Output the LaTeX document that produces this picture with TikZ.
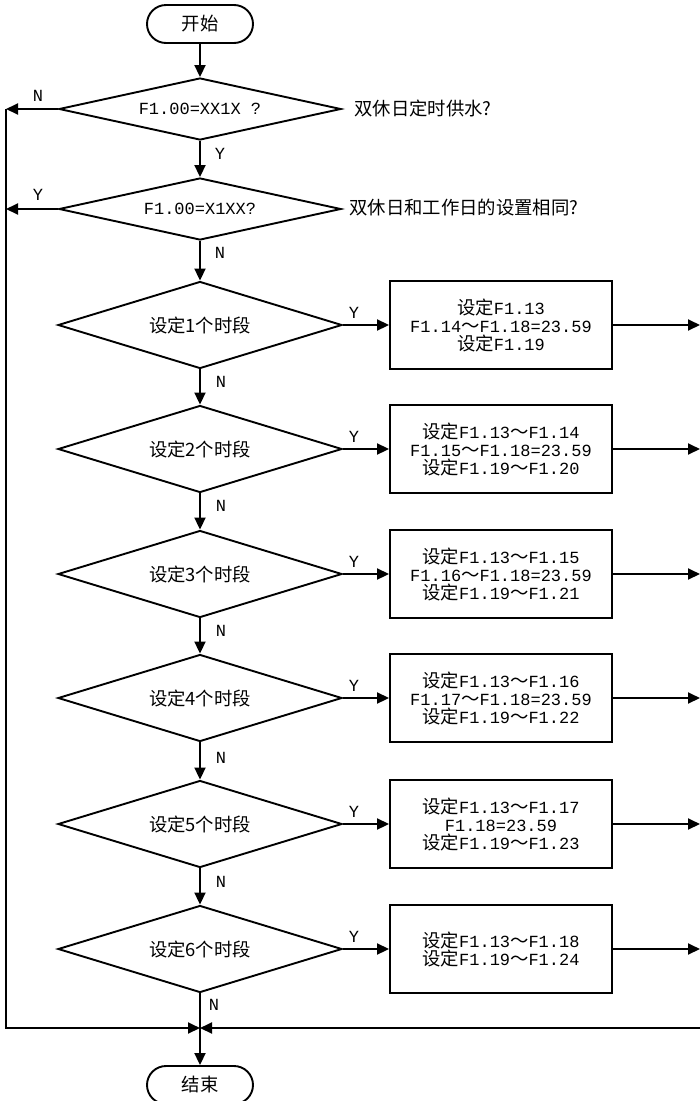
\documentclass[tikz,border=0pt]{standalone}
\usepackage{fontspec}
\setmainfont{Liberation Mono}
\newfontfamily\cjkfont[Scale=1.08]{Noto Sans CJK SC}
\newcommand{\zh}[1]{{\cjkfont #1}}
\newcommand{\wave}{{\cjkfont ～}}
\usetikzlibrary{shapes.geometric,arrows.meta}

\begin{document}
\begin{tikzpicture}[x=1pt,y=-1pt,line width=1.9pt,
    every node/.style={font=\fontsize{17}{18}\selectfont},
    arr/.style={-{Triangle[length=12pt,width=11pt]}},
    term/.style={draw,rounded corners=19pt,minimum width=106pt,minimum height=38pt,inner sep=0pt},
    ask/.style={draw,diamond,aspect=3.26,inner sep=0pt,minimum width=284pt,minimum height=87pt},
    askflat/.style={draw,diamond,aspect=4.55,inner sep=0pt,minimum width=282pt,minimum height=62pt},
    setbox/.style={draw,align=center,minimum width=222pt,minimum height=88pt,inner sep=0pt}]
    \useasboundingbox (0,0) rectangle (700,1101);

    \node[term] (start) at (200,24) {\zh{开始}};
    \node[askflat] (d0) at (200,109) {F1.00=XX1X ?};
    \node[askflat] (d1) at (200,209) {F1.00=X1XX?};
    \node[anchor=west] (q0) at (350,108) {\zh{双休日定时供水?}};
    \node[anchor=west] (q1) at (345,208) {\zh{双休日和工作日的设置相同?}};

    \node[ask] (s1) at (200,325) {\zh{设定1个时段}};
    \node[ask] (s2) at (200,449) {\zh{设定2个时段}};
    \node[ask] (s3) at (200,574) {\zh{设定3个时段}};
    \node[ask] (s4) at (200,698) {\zh{设定4个时段}};
    \node[ask] (s5) at (200,824) {\zh{设定5个时段}};
    \node[ask] (s6) at (200,949) {\zh{设定6个时段}};

    \node[setbox] (b1) at (501,325) {\zh{设定}F1.13\\F1.14\wave F1.18=23.59\\\zh{设定}F1.19};
    \node[setbox] (b2) at (501,449) {\zh{设定}F1.13\wave F1.14\\F1.15\wave F1.18=23.59\\\zh{设定}F1.19\wave F1.20};
    \node[setbox] (b3) at (501,574) {\zh{设定}F1.13\wave F1.15\\F1.16\wave F1.18=23.59\\\zh{设定}F1.19\wave F1.21};
    \node[setbox] (b4) at (501,698) {\zh{设定}F1.13\wave F1.16\\F1.17\wave F1.18=23.59\\\zh{设定}F1.19\wave F1.22};
    \node[setbox] (b5) at (501,824) {\zh{设定}F1.13\wave F1.17\\F1.18=23.59\\\zh{设定}F1.19\wave F1.23};
    \node[setbox] (b6) at (501,949) {\zh{设定}F1.13\wave F1.18\\\zh{设定}F1.19\wave F1.24};

    \node[term] (stop) at (200,1085) {\zh{结束}};

    \coordinate (l0) at (6,109);
    \coordinate (l1) at (6,209);
    \coordinate (lb) at (6,1028);
    \coordinate (m) at (200,1028);
    \coordinate (rb) at (700,1028);
    \coordinate (r1) at (700,325);
    \coordinate (r2) at (700,449);
    \coordinate (r3) at (700,574);
    \coordinate (r4) at (700,698);
    \coordinate (r5) at (700,824);
    \coordinate (r6) at (700,949);

    \draw[arr] (start) -- (d0);
    \draw[arr] (d0) -- (d1);
    \draw[arr] (d1) -- (s1);
    \draw[arr] (s1) -- (s2);
    \draw[arr] (s2) -- (s3);
    \draw[arr] (s3) -- (s4);
    \draw[arr] (s4) -- (s5);
    \draw[arr] (s5) -- (s6);
    \draw (s6) -- (m);
    \draw[arr] (m) -- (stop);

    \draw[arr] (d0.west) -- (l0);
    \draw[arr] (d1.west) -- (l1);
    \draw[arr] (l0) -- (lb) -- (m);
    \draw[arr] (rb) -- (m);

    \draw[arr] (s1) -- (b1);
    \draw[arr] (s2) -- (b2);
    \draw[arr] (s3) -- (b3);
    \draw[arr] (s4) -- (b4);
    \draw[arr] (s5) -- (b5);
    \draw[arr] (s6) -- (b6);
    \draw[arr] (b1) -- (r1);
    \draw[arr] (b2) -- (r2);
    \draw[arr] (b3) -- (r3);
    \draw[arr] (b4) -- (r4);
    \draw[arr] (b5) -- (r5);
    \draw[arr] (b6) -- (r6);

    \node (n0) at (38,96) {N};
    \node (y1) at (38,195) {Y};
    \node (y0) at (220,154) {Y};
    \node (n1) at (220,253) {N};
    \node (y2) at (354,313) {Y};
    \node (n2) at (221,382) {N};
    \node (y3) at (354,437) {Y};
    \node (n3) at (221,506) {N};
    \node (y4) at (354,562) {Y};
    \node (n4) at (221,631) {N};
    \node (y5) at (354,686) {Y};
    \node (n5) at (221,758) {N};
    \node (y6) at (354,812) {Y};
    \node (n6) at (221,882) {N};
    \node (y7) at (354,937) {Y};
    \node (n7) at (214,1005) {N};
\end{tikzpicture}
\end{document}
